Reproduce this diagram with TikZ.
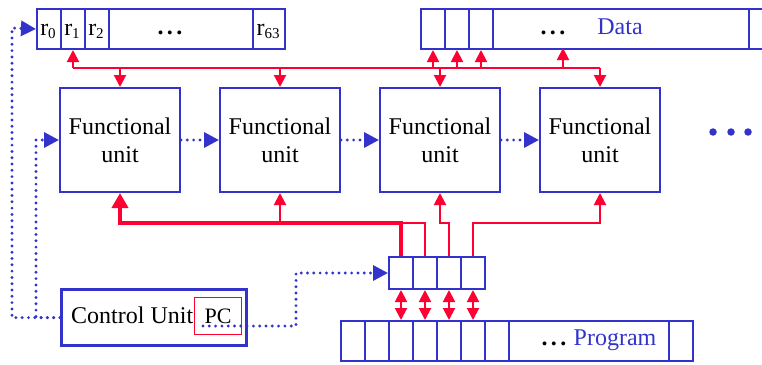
\documentclass[tikz,border=0pt]{standalone}
\usepackage{fontspec}
\setmainfont{Liberation Serif}
\usetikzlibrary{arrows.meta}
\definecolor{bl}{RGB}{51,51,204}
\definecolor{rd}{RGB}{255,0,51}
\newcommand\regl[1]{r\raisebox{-3pt}{\fontsize{15}{15}\selectfont #1}}
\newcommand\mydots{{\bfseries .\kern3.3pt.\kern3.3pt.}}
\begin{document}
\begin{tikzpicture}[x=1pt,y=-1pt,
  cell/.style={draw=bl, line width=2pt, inner sep=0pt, anchor=north west, minimum height=40pt},
  fubox/.style={draw=bl, line width=2pt, minimum width=120pt, minimum height=104pt, align=center, font=\fontsize{24}{28}\selectfont},
  txt/.style={anchor=base, inner sep=0pt, font=\fontsize{24}{28}\selectfont},
  rl/.style={draw=rd, line width=2pt},
  rthick/.style={draw=rd, line width=4pt},
  tipr/.tip={Triangle[length=12pt,width=12pt]},
  bigtip/.tip={Triangle[length=15pt,width=16pt]},
  bd/.style={draw=bl, line width=3.2pt, line cap=round, dash pattern=on 0pt off 6.3pt, -{Triangle[length=15pt,width=15pt]}},
  mdot/.style={circle, fill=bl, inner sep=0pt, minimum size=7.5pt}
]
\useasboundingbox (0,0) rectangle (762,364);
\clip (0,0) rectangle (762,364);

% register file
\node[cell, minimum width=24pt] (r0) at (36,8) {};
\node[cell, minimum width=24pt] (r1) at (60,8) {};
\node[cell, minimum width=24pt] (r2) at (84,8) {};
\node[cell, minimum width=144pt] (rdots) at (108,8) {};
\node[cell, minimum width=32pt] (r63) at (252,8) {};
\node[txt] (r0t) at (48,35) {\regl{0}};
\node[txt] (r1t) at (72,35) {\regl{1}};
\node[txt] (r2t) at (96,35) {\regl{2}};
\node[txt] (rdt) at (170,34) {\mydots};
\node[txt] (r63t) at (268,35) {\regl{63}};

% data memory
\node[cell, minimum width=24pt] (d1) at (420,8) {};
\node[cell, minimum width=24pt] (d2) at (444,8) {};
\node[cell, minimum width=24pt] (d3) at (468,8) {};
\node[cell, minimum width=256pt] (ddots) at (492,8) {};
\node[cell, minimum width=30pt] (d5) at (748,8) {};
\node[txt] (ddt) at (553,34) {\mydots};
\node[txt, text=bl] (datat) at (620,34) {Data};

% functional units
\node[fubox] (fu1) at (120,140) {Functional\\unit};
\node[fubox] (fu2) at (280,140) {Functional\\unit};
\node[fubox] (fu3) at (440,140) {Functional\\unit};
\node[fubox] (fu4) at (600,140) {Functional\\unit};
\node[mdot] (m1) at (713,132) {};
\node[mdot] (m2) at (731,132) {};
\node[mdot] (m3) at (748,132) {};

% instruction register
\node[cell, minimum width=24pt, minimum height=32pt] (i1) at (388,256) {};
\node[cell, minimum width=24pt, minimum height=32pt] (i2) at (412,256) {};
\node[cell, minimum width=24pt, minimum height=32pt] (i3) at (436,256) {};
\node[cell, minimum width=24pt, minimum height=32pt] (i4) at (460,256) {};

% program memory
\foreach \k in {1,...,7} {
  \node[cell, minimum width=24pt] (p\k) at ({340+24*(\k-1)},320) {};
}
\node[cell, minimum width=160pt] (pdots) at (508,320) {};
\node[cell, minimum width=24pt] (plast) at (668,320) {};
\node[txt] (pdt) at (554,345) {\mydots};
\node[txt, text=bl] (progt) at (615,345) {Program};

% control unit
\node[draw=bl, line width=3.2pt, anchor=north west, minimum width=185pt, minimum height=56pt, inner sep=0pt] (cu) at (60,288) {};
\node[txt, anchor=base west] (cut) at (71,323) {Control Unit};
\node[draw=rd, line width=1.2pt, anchor=north west, minimum width=47pt, minimum height=37pt, inner sep=0pt, font=\fontsize{22}{26}\selectfont] (pc) at (194,297) {PC};

% coordinates
\coordinate (tb) at (0,68);
\coordinate (lb) at (0,223);
\coordinate (dmid) at (563,48);
\coordinate (lin) at (36,140);
\coordinate (lout) at (12,28);
\coordinate (pcs) at (203,326);
\coordinate (pcb) at (296,326);

% top red bus
\draw[rl] (r1.south |- tb) -- (fu4.north |- tb);
\draw[rl,-tipr] (r1.south |- tb) -- (r1.south);
\foreach \f in {fu1,fu2,fu3,fu4} \draw[rl,-tipr] (\f.north |- tb) -- (\f.north);
\foreach \d in {d1,d2,d3} \draw[rl,-tipr] (\d.south |- tb) -- (\d.south);
\draw[rl,-tipr] (dmid |- tb) -- (dmid);

% bottom red lines
\draw[rthick,-bigtip] (i1.north) |- (fu1.south |- lb) -- (fu1.south);
\draw[rl,-tipr] (fu2.south |- lb) -- (fu2.south);
\draw[rl] (i2.north) |- (i1.north |- lb);
\draw[rl,-tipr] (i3.north) |- (fu3.south |- lb) -- (fu3.south);
\draw[rl,-tipr] (i4.north) |- (fu4.south |- lb) -- (fu4.south);
\draw[rl,tipr-tipr] (i1.south) -- (p3.north);
\draw[rl,tipr-tipr] (i2.south) -- (p4.north);
\draw[rl,tipr-tipr] (i3.south) -- (p5.north);
\draw[rl,tipr-tipr] (i4.south) -- (p6.north);

% blue dotted control lines
\draw[bd] (fu1.east) -- (fu2.west);
\draw[bd] (fu2.east) -- (fu3.west);
\draw[bd] (fu3.east) -- (fu4.west);
\draw[bd] (cu.west) -| (lin) -- (fu1.west);
\draw[bd] (cu.west) -| (lout) -- (r0.west);
\draw[bd] (pcs) -- (pcb) |- (i1.west);
\end{tikzpicture}
\end{document}
